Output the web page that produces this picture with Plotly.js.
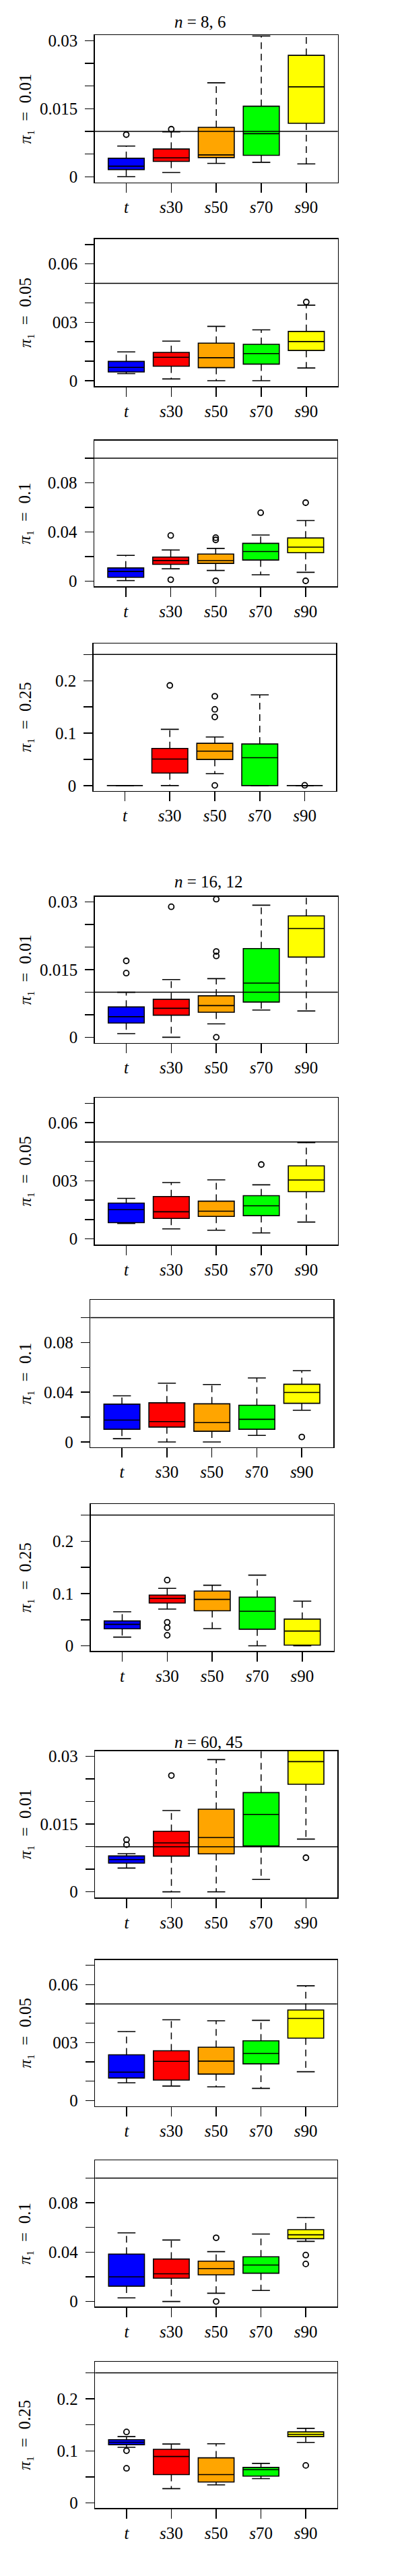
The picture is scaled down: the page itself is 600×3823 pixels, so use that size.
<!DOCTYPE html>
<html>
<head>
<meta charset="utf-8">
<script src="https://cdn.plot.ly/plotly-3.0.1.min.js"></script>
<style>
  html, body { margin: 0; padding: 0; background: #fff; }
  #chart { width: 600px; height: 3823px; }
</style>
</head>
<body>
<div id="chart"></div>
<script>
// ---------- data ----------
const categories = ['t', 's30', 's50', 's70', 's90'];
const categoryLabels = ['<i>t</i>', '<i>s</i>30', '<i>s</i>50', '<i>s</i>70', '<i>s</i>90'];
const groupTitles = ['<i>n</i> = 8, 6', '<i>n</i> = 16, 12', '<i>n</i> = 60, 45'];
const pi1Values = [0.01, 0.05, 0.1, 0.25];
const pi1Labels = ['0.01', '0.05', '0.1', '0.25'];
const boxColors = ['#0000FF', '#FF0000', '#FFA500', '#00FF00', '#FFFF00'];

// labelled ticks and unlabelled ticks per pi1 row
const ticksA = [0, 0.015, 0.03];
const tickTextA = ['0', '0.015', '0.03'];
const minorA = [0.005, 0.01, 0.02, 0.025];
const ticksB = [0, 0.03, 0.06];
const tickTextB = ['0', '003', '0.06'];
const minorB = [0.01, 0.02, 0.04, 0.05, 0.07];
const ticksC = [0, 0.04, 0.08];
const tickTextC = ['0', '0.04', '0.08'];
const minorC = [0.02, 0.06, 0.1];
const ticksD = [0, 0.1, 0.2];
const tickTextD = ['0', '0.1', '0.2'];
const minorD = [0.05, 0.15, 0.25];

// n = 8, 6 ; pi1 = 0.01
const a1_lo  = [0, 0.00094, 0.00293, 0.00318, 0.00283];
const a1_q1  = [0.00159, 0.00338, 0.00422, 0.00472, 0.01177];
const a1_med = [0.00233, 0.00417, 0.00482, 0.00949, 0.01982];
const a1_q3  = [0.00407, 0.00611, 0.01088, 0.01555, 0.02677];
const a1_hi  = [0.00676, 0.00988, 0.02071, 0.03104, 0.0345];
const a1_out = [[0.00929], [0.01048], [], [], []];
// n = 8, 6 ; pi1 = 0.05
const a2_lo  = [0.0036, 0.0009, 0, 0, 0.0065];
const a2_q1  = [0.0045, 0.0074, 0.0067, 0.0085, 0.0155];
const a2_med = [0.0068, 0.0120, 0.0118, 0.0139, 0.0201];
const a2_q3  = [0.0099, 0.0145, 0.0193, 0.0187, 0.0253];
const a2_hi  = [0.0148, 0.0203, 0.0279, 0.0261, 0.0388];
const a2_out = [[], [], [], [], [0.0404]];
// n = 8, 6 ; pi1 = 0.1
const a3_lo  = [0.0004, 0.0100, 0.0086, 0.0051, 0.0071];
const a3_q1  = [0.0031, 0.0136, 0.0144, 0.0171, 0.0231];
const a3_med = [0.0078, 0.0167, 0.0166, 0.0240, 0.0276];
const a3_q3  = [0.0107, 0.0195, 0.0220, 0.0307, 0.0351];
const a3_hi  = [0.0209, 0.0253, 0.0266, 0.0375, 0.0493];
const a3_out = [[], [0.0371, 0.0011], [0.0353, 0.0335, 0.0002], [0.0556], [0.0638, 0.0002]];
// n = 8, 6 ; pi1 = 0.25
const a4_lo  = [0, 0, 0.0227, 0, 0];
const a4_q1  = [0, 0.0240, 0.0498, 0, 0];
const a4_med = [0, 0.0506, 0.0657, 0.0532, 0];
const a4_q3  = [0, 0.0708, 0.0807, 0.0794, 0];
const a4_hi  = [0, 0.1073, 0.0927, 0.1730, 0];
const a4_out = [[], [0.191], [0.1704, 0.1455, 0.1309, 0.0004], [], [0.0006]];
// n = 16, 12 ; pi1 = 0.01
const a5_lo  = [0.00079, 0, 0.00297, 0.00603, 0.00583];
const a5_q1  = [0.00316, 0.00489, 0.00554, 0.00781, 0.01779];
const a5_med = [0.00455, 0.00643, 0.00702, 0.01201, 0.02412];
const a5_q3  = [0.00672, 0.00840, 0.00919, 0.01967, 0.02694];
const a5_hi  = [0.00998, 0.01280, 0.01300, 0.02931, 0.0345];
const a5_out = [[0.01695, 0.01423], [0.02896], [0.03064, 0.01903, 0.01804, 0], [], []];
// n = 16, 12 ; pi1 = 0.05
const a6_lo  = [0.0080, 0.0052, 0.0045, 0.0031, 0.0087];
const a6_q1  = [0.0084, 0.0106, 0.0116, 0.0120, 0.0244];
const a6_med = [0.0151, 0.0140, 0.0143, 0.0171, 0.0304];
const a6_q3  = [0.0185, 0.0219, 0.0195, 0.0223, 0.0377];
const a6_hi  = [0.0209, 0.0291, 0.0305, 0.0279, 0.0497];
const a6_out = [[], [], [], [0.0384], []];
// n = 16, 12 ; pi1 = 0.1
const a7_lo  = [0.0026, 0, 0, 0.0053, 0.0255];
const a7_q1  = [0.0102, 0.0120, 0.0086, 0.0102, 0.0311];
const a7_med = [0.0176, 0.0164, 0.0156, 0.0182, 0.0398];
const a7_q3  = [0.0304, 0.0315, 0.0307, 0.0295, 0.0464];
const a7_hi  = [0.0371, 0.0473, 0.0462, 0.0515, 0.0573];
const a7_out = [[], [], [], [], [0.004]];
// n = 16, 12 ; pi1 = 0.25
const a8_lo  = [0.0167, 0.0704, 0.0330, 0, 0];
const a8_q1  = [0.0326, 0.0820, 0.0670, 0.0318, 0.0013];
const a8_med = [0.0412, 0.0906, 0.0888, 0.0661, 0.0283];
const a8_q3  = [0.0476, 0.0970, 0.1047, 0.0931, 0.0511];
const a8_hi  = [0.0652, 0.1099, 0.1159, 0.1352, 0.0854];
const a8_out = [[], [0.1258, 0.0451, 0.0348, 0.0202], [], [], []];
// n = 60, 45 ; pi1 = 0.01
const a9_lo  = [0.00527, 0, 0, 0.00274, 0.01169];
const a9_q1  = [0.00637, 0.00791, 0.00841, 0.01015, 0.02383];
const a9_med = [0.00716, 0.01085, 0.01204, 0.01716, 0.02886];
const a9_q3  = [0.00796, 0.01343, 0.01831, 0.02199, 0.0335];
const a9_hi  = [0.00846, 0.01801, 0.02930, 0.0345, 0.040];
const a9_out = [[0.01154, 0.01045], [0.02577], [], [], [0.00756]];
// n = 60, 45 ; pi1 = 0.05
const a10_lo  = [0.0092, 0.0075, 0.0071, 0.0063, 0.0149];
const a10_q1  = [0.0117, 0.0106, 0.0137, 0.0190, 0.0323];
const a10_med = [0.0147, 0.0203, 0.0204, 0.0244, 0.0425];
const a10_q3  = [0.0237, 0.0258, 0.0276, 0.0309, 0.0469];
const a10_hi  = [0.0357, 0.0418, 0.0413, 0.0415, 0.0594];
const a10_out = [[], [], [], [], []];
// n = 60, 45 ; pi1 = 0.1
const a11_lo  = [0.0029, 0, 0.0067, 0.0089, 0.0487];
const a11_q1  = [0.0124, 0.0189, 0.0216, 0.0229, 0.0509];
const a11_med = [0.0200, 0.0224, 0.0267, 0.0295, 0.0540];
const a11_q3  = [0.0384, 0.0344, 0.0327, 0.0362, 0.0582];
const a11_hi  = [0.0556, 0.0498, 0.0404, 0.0546, 0.0680];
const a11_out = [[], [], [0.0516, 0], [], [0.0376, 0.0304]];
// n = 60, 45 ; pi1 = 0.25
const a12_lo  = [0.1069, 0.0275, 0.0348, 0.0468, 0.1163];
const a12_q1  = [0.1120, 0.0545, 0.0403, 0.0515, 0.1275];
const a12_med = [0.1167, 0.0893, 0.0545, 0.0639, 0.1318];
const a12_q3  = [0.1215, 0.1030, 0.0867, 0.0682, 0.1365];
const a12_hi  = [0.1275, 0.1133, 0.1137, 0.0760, 0.1433];
const a12_out = [[0.1365, 0.1004, 0.0665], [], [], [], [0.0721]];

const panelStats = [
  [a1_lo, a1_q1, a1_med, a1_q3, a1_hi, a1_out],
  [a2_lo, a2_q1, a2_med, a2_q3, a2_hi, a2_out],
  [a3_lo, a3_q1, a3_med, a3_q3, a3_hi, a3_out],
  [a4_lo, a4_q1, a4_med, a4_q3, a4_hi, a4_out],
  [a5_lo, a5_q1, a5_med, a5_q3, a5_hi, a5_out],
  [a6_lo, a6_q1, a6_med, a6_q3, a6_hi, a6_out],
  [a7_lo, a7_q1, a7_med, a7_q3, a7_hi, a7_out],
  [a8_lo, a8_q1, a8_med, a8_q3, a8_hi, a8_out],
  [a9_lo, a9_q1, a9_med, a9_q3, a9_hi, a9_out],
  [a10_lo, a10_q1, a10_med, a10_q3, a10_hi, a10_out],
  [a11_lo, a11_q1, a11_med, a11_q3, a11_hi, a11_out],
  [a12_lo, a12_q1, a12_med, a12_q3, a12_hi, a12_out]
];

// ---------- layout geometry (pixels: left, right, top, bottom) ----------
const W = 600, H = 3823;
const frames = [
  [140.7, 501.7, 52.3, 270.7],
  [140.7, 501.7, 354.7, 573.3],
  [140.0, 500.7, 653.7, 870.0],
  [138.7, 499.3, 955.0, 1173.7],
  [140.7, 501.7, 1330.7, 1547.7],
  [140.7, 501.7, 1629.3, 1847.0],
  [134.3, 495.0, 1929.0, 2147.7],
  [134.7, 495.7, 2232.3, 2450.3],
  [141.3, 501.0, 2598.7, 2816.0],
  [141.3, 500.7, 2908.7, 3125.7],
  [141.3, 500.7, 3206.0, 3423.3],
  [141.3, 500.7, 3505.3, 3722.3]
];
const yRanges = [[-0.00125, 0.0312], [-0.0029, 0.0728], [-0.0042, 0.1144], [-0.0100, 0.2710]];
const yTicks = [[ticksA, tickTextA, minorA], [ticksB, tickTextB, minorB],
                [ticksC, tickTextC, minorC], [ticksD, tickTextD, minorD]];
const titleY = [32, 1308.3, 2585.7];
const titleX = 257;

const FONT = 'Liberation Serif, DejaVu Serif, Times New Roman, serif';
const NB = '\u00A0';

const traces = [];
const layout = {
  width: W, height: H,
  margin: {l: 0, r: 0, t: 0, b: 0},
  paper_bgcolor: '#ffffff', plot_bgcolor: '#ffffff',
  showlegend: false,
  font: {family: FONT, size: 25, color: '#000'},
  annotations: [], shapes: []
};

panelStats.forEach((st, p) => {
  const [lo, q1, med, q3, hi, out] = st;
  const row = p % 4;
  const sfx = p === 0 ? '' : String(p + 1);
  const xa = 'x' + sfx, ya = 'y' + sfx;
  const fr = frames[p];

  layout['xaxis' + sfx] = {
    domain: [fr[0] / W, fr[1] / W], anchor: ya,
    range: [0.3, 5.7], tickmode: 'array',
    tickvals: categories.map((c, i) => i + 1), ticktext: categoryLabels,
    ticks: 'outside', ticklen: 14, tickwidth: 1.5, tickcolor: '#000',
    showline: true, mirror: true, linecolor: '#000', linewidth: 1.5,
    showgrid: false, zeroline: false, fixedrange: true,
    tickfont: {family: FONT, size: 25, color: '#000'}
  };
  layout['yaxis' + sfx] = {
    domain: [1 - fr[3] / H, 1 - fr[2] / H], anchor: xa,
    range: yRanges[row], tickmode: 'array',
    tickvals: yTicks[row][0], ticktext: yTicks[row][1],
    ticks: 'outside', ticklen: 13, tickwidth: 1.5, tickcolor: '#000',
    minor: {tickmode: 'array', tickvals: yTicks[row][2], ticks: 'outside',
            ticklen: 13, tickwidth: 1.5, tickcolor: '#000', showgrid: false},
    ticklabelstandoff: 6,
    showline: true, mirror: true, linecolor: '#000', linewidth: 1.5,
    showgrid: false, zeroline: false, fixedrange: true,
    tickfont: {family: FONT, size: 25, color: '#000'}
  };

  // dashed whiskers
  const wx = [], wy = [], cx = [], cy = [], ox = [], oy = [];
  categories.forEach((c, i) => {
    const x = i + 1;
    wx.push(x, x, null, x, x, null);
    wy.push(q3[i], hi[i], null, q1[i], lo[i], null);
    cx.push(x - 0.2, x + 0.2, null, x - 0.2, x + 0.2, null);
    cy.push(hi[i], hi[i], null, lo[i], lo[i], null);
    out[i].forEach(v => { ox.push(x); oy.push(v); });
  });
  traces.push({
    type: 'scatter', mode: 'lines', x: wx, y: wy, xaxis: xa, yaxis: ya,
    line: {color: '#000', width: 1.5, dash: '10px,7px'}, hoverinfo: 'skip'
  });

  // boxes
  categories.forEach((c, i) => {
    traces.push({
      type: 'box', x: [i + 1], q1: [q1[i]], median: [med[i]], q3: [q3[i]],
      lowerfence: [q1[i]], upperfence: [q3[i]],
      width: 0.8, whiskerwidth: 0, boxpoints: false,
      fillcolor: boxColors[i], line: {color: '#000', width: 1.6},
      xaxis: xa, yaxis: ya, hoverinfo: 'skip', name: c
    });
  });

  // whisker caps
  traces.push({
    type: 'scatter', mode: 'lines', x: cx, y: cy, xaxis: xa, yaxis: ya,
    line: {color: '#000', width: 1.6}, hoverinfo: 'skip'
  });
  // outliers
  traces.push({
    type: 'scatter', mode: 'markers', x: ox, y: oy, xaxis: xa, yaxis: ya,
    marker: {symbol: 'circle-open', size: 8, color: '#000', line: {width: 1.8, color: '#000'}},
    hoverinfo: 'skip'
  });

  // reference line at pi1
  layout.shapes.push({
    type: 'line', xref: xa + ' domain', x0: 0, x1: 1,
    yref: ya, y0: pi1Values[row], y1: pi1Values[row],
    line: {color: '#000', width: 1.5}, layer: 'above'
  });

  // y-axis label (unicode subscript one)
  layout.annotations.push({
    xref: 'paper', yref: 'paper', x: 37 / W, y: 1 - (fr[2] + fr[3]) / 2 / H,
    xanchor: 'center', yanchor: 'middle', textangle: -90, showarrow: false,
    text: '<i>π</i>\u2081' + NB + NB + '=' + NB + NB + pi1Labels[row],
    font: {family: FONT, size: 25, color: '#000'}
  });
});

// group titles
groupTitles.forEach((t, g) => {
  layout.annotations.push({
    xref: 'paper', yref: 'paper', x: titleX / W, y: 1 - titleY[g] / H,
    xanchor: 'left', yanchor: 'middle', showarrow: false,
    text: t, font: {family: FONT, size: 25, color: '#000'}
  });
});

Plotly.newPlot('chart', traces, layout, {staticPlot: true, displayModeBar: false});
</script>
</body>
</html>
